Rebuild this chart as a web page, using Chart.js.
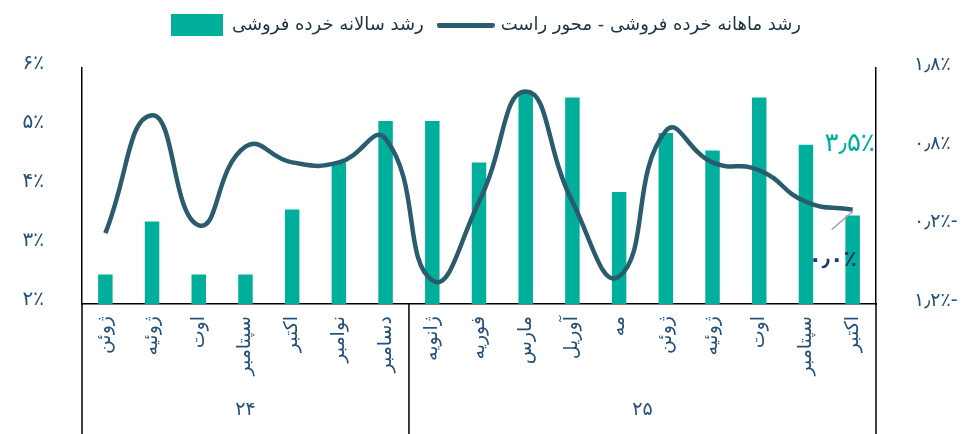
<!DOCTYPE html>
<html>
<head>
<meta charset="utf-8">
<script src="https://cdn.jsdelivr.net/npm/chart.js@4.4.1/dist/chart.umd.min.js"></script>
<style>
  html, body { margin: 0; padding: 0; background: #fff; }
  #wrap { width: 972px; height: 434px; }
</style>
</head>
<body>
<div id="wrap"><canvas id="chart" width="972" height="434"></canvas></div>
<script>
// months along the x axis (Jun 2024 .. Oct 2025)
const months = ['ژوئن', 'ژوئیه', 'اوت', 'سپتامبر', 'اکتبر', 'نوامبر', 'دسامبر',
                'ژانویه', 'فوریه', 'مارس', 'آوریل', 'مه', 'ژوئن', 'ژوئیه', 'اوت', 'سپتامبر', 'اکتبر'];
// year groups under the month labels: label + index of the first month
const years = ['۲۴', '۲۵'];
const yearStart = [0, 7];

// annual retail sales growth, % (bars, left axis)
const retailYoY = [2.5, 3.4, 2.5, 2.5, 3.6, 4.4, 5.1, 5.1, 4.4, 5.6, 5.5, 3.9, 4.9, 4.6, 5.5, 4.7, 3.5];
// monthly retail sales growth, % (line, right axis)
const retailMoM = [-0.3, 1.2, -0.2, 0.8, 0.6, 0.6, 0.9, -0.9, 0.1, 1.5, 0.1, -0.85, 1.0, 0.6, 0.5, 0.1, 0.0];

// axis ticks
const leftTicks = [2, 3, 4, 5, 6];
const rightTicks = [-1.2, -0.2, 0.8, 1.8];

const seriesNames = ['رشد سالانه خرده فروشی', 'رشد ماهانه خرده فروشی - محور راست'];

const BAR_COLOR = '#00AF9B';
const LINE_COLOR = '#2B5C6E';
const TEXT_COLOR = '#24507A';
const FONT = "'DejaVu Sans', sans-serif";

const faDigits = '۰۱۲۳۴۵۶۷۸۹';
function toFa(v, decimals) {
    const s = Math.abs(v).toFixed(decimals).replace(/\d/g, d => faDigits[d]).replace('.', '٫');
    // RLM keeps the minus sign on the right hand side
    return (v < 0 ? '\u200F-' : '') + s + '٪';
}

// legend swatches
function swatch(w, h, color) {
    const c = document.createElement('canvas');
    c.width = w; c.height = h;
    const g = c.getContext('2d');
    g.fillStyle = color;
    if (h < 8) {
        g.beginPath();
        g.lineCap = 'round';
        g.strokeStyle = color;
        g.lineWidth = h;
        g.moveTo(h / 2, h / 2);
        g.lineTo(w - h / 2, h / 2);
        g.stroke();
    } else {
        g.fillRect(0, 0, w, h);
    }
    return c;
}

// taller legend box so the plot starts lower
const legendSpacer = {
    id: 'legendSpacer',
    beforeInit(chart) {
        const fit = chart.legend.fit;
        chart.legend.fit = function () {
            fit.call(this);
            this.height = 68;
        };
    }
};

// group box and year labels under the month labels
const yearAxis = {
    id: 'yearAxis',
    afterDraw(chart) {
        const ctx = chart.ctx;
        const xs = chart.scales.x;
        const area = chart.chartArea;
        const step = xs.getPixelForValue(1) - xs.getPixelForValue(0);
        ctx.save();
        ctx.strokeStyle = '#000';
        ctx.lineWidth = 1.5;
        const edges = yearStart.map(i => xs.getPixelForValue(i) - step / 2);
        edges.push(xs.getPixelForValue(months.length - 1) + step / 2);
        edges.forEach(x => {
            ctx.beginPath();
            ctx.moveTo(x, area.bottom);
            ctx.lineTo(x, chart.height);
            ctx.stroke();
        });
        ctx.fillStyle = TEXT_COLOR;
        ctx.font = '19px ' + FONT;
        ctx.textAlign = 'center';
        ctx.textBaseline = 'middle';
        years.forEach((y, i) => {
            ctx.fillText(y, (edges[i] + edges[i + 1]) / 2, 410);
        });
        ctx.restore();
    }
};

// value labels on the last bar and the last line point
const lastLabels = {
    id: 'lastLabels',
    afterDatasetsDraw(chart) {
        const ctx = chart.ctx;
        const last = months.length - 1;
        const bar = chart.getDatasetMeta(0).data[last];
        const pt = chart.getDatasetMeta(1).data[last];
        ctx.save();
        ctx.textAlign = 'center';
        ctx.textBaseline = 'middle';

        ctx.fillStyle = BAR_COLOR;
        ctx.font = '26px ' + FONT;
        ctx.fillText(toFa(retailYoY[last], 1), bar.x - 3, bar.y - 71);

        ctx.strokeStyle = '#A6A6A6';
        ctx.lineWidth = 1.5;
        ctx.beginPath();
        ctx.moveTo(pt.x - 21, pt.y + 20);
        ctx.lineTo(pt.x, pt.y + 2);
        ctx.stroke();

        ctx.fillStyle = '#1C3D6E';
        ctx.font = 'bold 22px ' + FONT;
        ctx.fillText(toFa(retailMoM[last], 1), pt.x - 20, pt.y + 51);
        ctx.restore();
    }
};

new Chart(document.getElementById('chart'), {
    data: {
        labels: months,
        datasets: [
            {
                type: 'bar',
                label: seriesNames[0],
                data: retailYoY,
                yAxisID: 'y',
                backgroundColor: BAR_COLOR,
                categoryPercentage: 1,
                barPercentage: 0.31,
                pointStyle: swatch(52, 22, BAR_COLOR),
                order: 2
            },
            {
                type: 'line',
                label: seriesNames[1],
                data: retailMoM,
                yAxisID: 'y1',
                borderColor: LINE_COLOR,
                borderWidth: 4.5,
                tension: 0.5,
                pointRadius: 0,
                pointStyle: swatch(58, 5, LINE_COLOR),
                order: 1
            }
        ]
    },
    options: {
        responsive: false,
        animation: false,
        layout: { padding: 0 },
        plugins: {
            legend: {
                position: 'top',
                labels: {
                    usePointStyle: true,
                    pointStyleWidth: 52,
                    padding: 16,
                    color: '#1B3341',
                    font: { family: FONT, size: 18 },
                    sort: (a, b) => a.datasetIndex - b.datasetIndex
                }
            },
            tooltip: { enabled: false }
        },
        scales: {
            x: {
                grid: { display: false },
                border: { display: true, color: '#000', width: 1.5 },
                ticks: {
                    autoSkip: false,
                    minRotation: 90,
                    maxRotation: 90,
                    padding: 4,
                    color: TEXT_COLOR,
                    font: { family: FONT, size: 19 }
                },
                afterFit(scale) { scale.height = 130; }
            },
            y: {
                position: 'left',
                min: 2,
                max: 6,
                grid: { display: false },
                border: { display: true, color: '#000', width: 1.5 },
                afterBuildTicks(scale) { scale.ticks = leftTicks.map(v => ({ value: v })); },
                ticks: {
                    padding: 30,
                    labelOffset: -4,
                    color: TEXT_COLOR,
                    font: { family: FONT, size: 20 },
                    callback: v => toFa(v, 0)
                },
                afterFit(scale) { scale.width = 82; }
            },
            y1: {
                position: 'right',
                min: -1.2,
                max: 1.8,
                grid: { display: false },
                border: { display: true, color: '#000', width: 1.5 },
                afterBuildTicks(scale) { scale.ticks = rightTicks.map(v => ({ value: v })); },
                ticks: {
                    padding: 30,
                    labelOffset: -3,
                    color: TEXT_COLOR,
                    font: { family: FONT, size: 19 },
                    callback: v => toFa(v, 1)
                },
                afterFit(scale) { scale.width = 96; }
            }
        }
    },
    plugins: [legendSpacer, yearAxis, lastLabels]
});
</script>
</body>
</html>
